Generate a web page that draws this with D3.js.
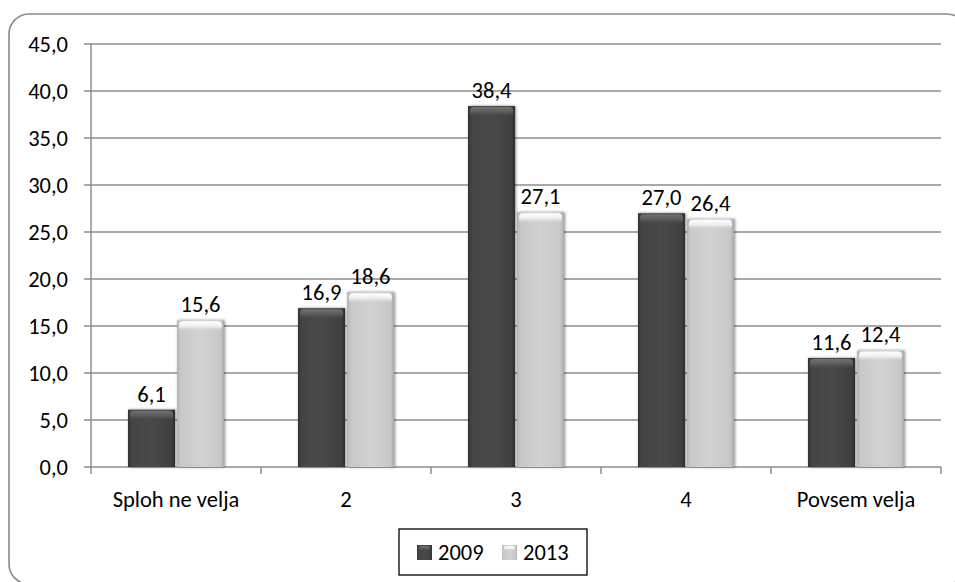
<!DOCTYPE html>
<html><head><meta charset="utf-8">
<script src="https://cdn.jsdelivr.net/npm/d3@7"></script>
<style>
html,body{margin:0;padding:0;background:#fff;}
svg text{font-family:Carlito, Lato, "Open Sans", sans-serif;fill:#000;}
</style></head>
<body><svg id="c" width="955" height="582"></svg>
<script>
const categories = ["Sploh ne velja", "2", "3", "4", "Povsem velja"];
const seriesNames = ["2009", "2013"];
const values2009 = [6.1, 16.9, 38.4, 27.0, 11.6];
const values2013 = [15.6, 18.6, 27.1, 26.4, 12.4];
const yTicks = [0, 5, 10, 15, 20, 25, 30, 35, 40, 45];

const svg = d3.select("#c");
const fmt = v => v.toFixed(1).replace(".", ",");
const FS = 22.5;

const defs = svg.append("defs");
function grad(id, stops, horiz) {
  const g = defs.append("linearGradient").attr("id", id)
    .attr("x1", 0).attr("y1", 0).attr("x2", horiz ? 1 : 0).attr("y2", horiz ? 0 : 1);
  stops.forEach(s => g.append("stop").attr("offset", s[0]).attr("stop-color", s[1]).attr("stop-opacity", s[2] === undefined ? 1 : s[2]));
}
grad("gDark", [[0, "#333"], [0.08, "#444"], [0.5, "#484848"], [0.92, "#404040"], [1, "#2c2c2c"]], true);
grad("gLight", [[0, "#b4b4b4"], [0.08, "#c8c8c8"], [0.5, "#d2d2d2"], [0.92, "#c8c8c8"], [1, "#aaaaaa"]], true);
grad("gDarkTop", [[0, "#727272"], [0.5, "#5c5c5c"], [1, "#484848", 0]], false);
grad("gLightTop", [[0, "#ffffff"], [0.5, "#eeeeee"], [1, "#d2d2d2", 0]], false);
const f = defs.append("filter").attr("id", "sh").attr("x", "-20%").attr("y", "-20%").attr("width", "140%").attr("height", "140%");
f.append("feGaussianBlur").attr("in", "SourceAlpha").attr("stdDeviation", 1.6).attr("result", "b");
f.append("feOffset").attr("in", "b").attr("dx", 1).attr("dy", 0).attr("result", "o");
f.append("feComponentTransfer").attr("in", "o").attr("result", "o2")
  .append("feFuncA").attr("type", "linear").attr("slope", 0.45);
const fm = f.append("feMerge");
fm.append("feMergeNode").attr("in", "o2");
fm.append("feMergeNode").attr("in", "SourceGraphic");

// frame
svg.append("rect").attr("x", 9).attr("y", 14).attr("width", 958).attr("height", 570)
  .attr("rx", 20).attr("fill", "#fff").attr("stroke", "#8a8a8a").attr("stroke-width", 1.6);

const pLeft = 91, pRight = 941, pTop = 44, pBottom = 467;
const x = d3.scaleBand().domain(categories).range([pLeft, pRight]);
const y = d3.scaleLinear().domain([0, 45]).range([pBottom, pTop]);
const barW = 47, gap = 2;

// gridlines + y ticks
const gy = svg.append("g");
gy.selectAll("line.grid").data(yTicks).enter().append("line")
  .attr("x1", pLeft - 7).attr("x2", pRight)
  .attr("y1", d => y(d)).attr("y2", d => y(d))
  .attr("stroke", "#8c8c8c").attr("stroke-width", 1.5);
gy.selectAll("text").data(yTicks).enter().append("text")
  .attr("x", 68).attr("y", d => y(d)).attr("dy", "0.35em")
  .attr("text-anchor", "end").attr("font-size", FS).text(d => fmt(d));
// y axis line
svg.append("line").attr("x1", pLeft).attr("x2", pLeft).attr("y1", pTop).attr("y2", pBottom + 7)
  .attr("stroke", "#8c8c8c").attr("stroke-width", 1.5);
// x ticks
const bounds = categories.map(c => x(c) + x.bandwidth());
svg.selectAll("line.xt").data(bounds).enter().append("line")
  .attr("x1", d => d).attr("x2", d => d).attr("y1", pBottom).attr("y2", pBottom + 7)
  .attr("stroke", "#8c8c8c").attr("stroke-width", 1.5);

// category labels
svg.selectAll("text.cat").data(categories).enter().append("text")
  .attr("x", d => x(d) + x.bandwidth() / 2).attr("y", 499).attr("dy", "0.35em")
  .attr("text-anchor", "middle").attr("font-size", FS).text(d => d);

// bars
const series = [values2009, values2013];
const fills = ["url(#gDark)", "url(#gLight)"];
const tops = ["url(#gDarkTop)", "url(#gLightTop)"];
series.forEach((vals, si) => {
  const g = svg.append("g");
  const bx = (c) => x(c) + x.bandwidth() / 2 + (si === 0 ? -gap / 2 - barW : gap / 2);
  g.selectAll("rect.bar").data(categories).enter().append("rect")
    .attr("x", d => bx(d)).attr("width", barW)
    .attr("y", (d, i) => y(vals[i])).attr("height", (d, i) => pBottom - y(vals[i]))
    .attr("fill", fills[si]).attr("filter", "url(#sh)");
  g.selectAll("rect.top").data(categories).enter().append("rect")
    .attr("x", d => bx(d) + 2).attr("width", barW - 4)
    .attr("y", (d, i) => y(vals[i]) + 1).attr("height", 10).attr("rx", 4)
    .attr("fill", tops[si]);
  g.selectAll("text.val").data(categories).enter().append("text")
    .attr("x", d => bx(d) + barW / 2)
    .attr("y", (d, i) => y(vals[i]) - 16).attr("dy", "0.35em")
    .attr("text-anchor", "middle").attr("font-size", FS).text((d, i) => fmt(vals[i]));
});

// legend
const lg = svg.append("g");
lg.append("rect").attr("x", 399).attr("y", 529).attr("width", 188).attr("height", 46)
  .attr("fill", "#fff").attr("stroke", "#000").attr("stroke-width", 1.3);
const lx = [417, 502];
seriesNames.forEach((s, i) => {
  lg.append("rect").attr("x", lx[i]).attr("y", 545).attr("width", 15).attr("height", 15)
    .attr("fill", fills[i]);
  lg.append("rect").attr("x", lx[i] + 2).attr("y", 546).attr("width", 11).attr("height", 5)
    .attr("rx", 2).attr("fill", tops[i]);
  lg.append("text").attr("x", lx[i] + 21).attr("y", 552).attr("dy", "0.35em")
    .attr("font-size", FS).text(s);
});
</script></body></html>
